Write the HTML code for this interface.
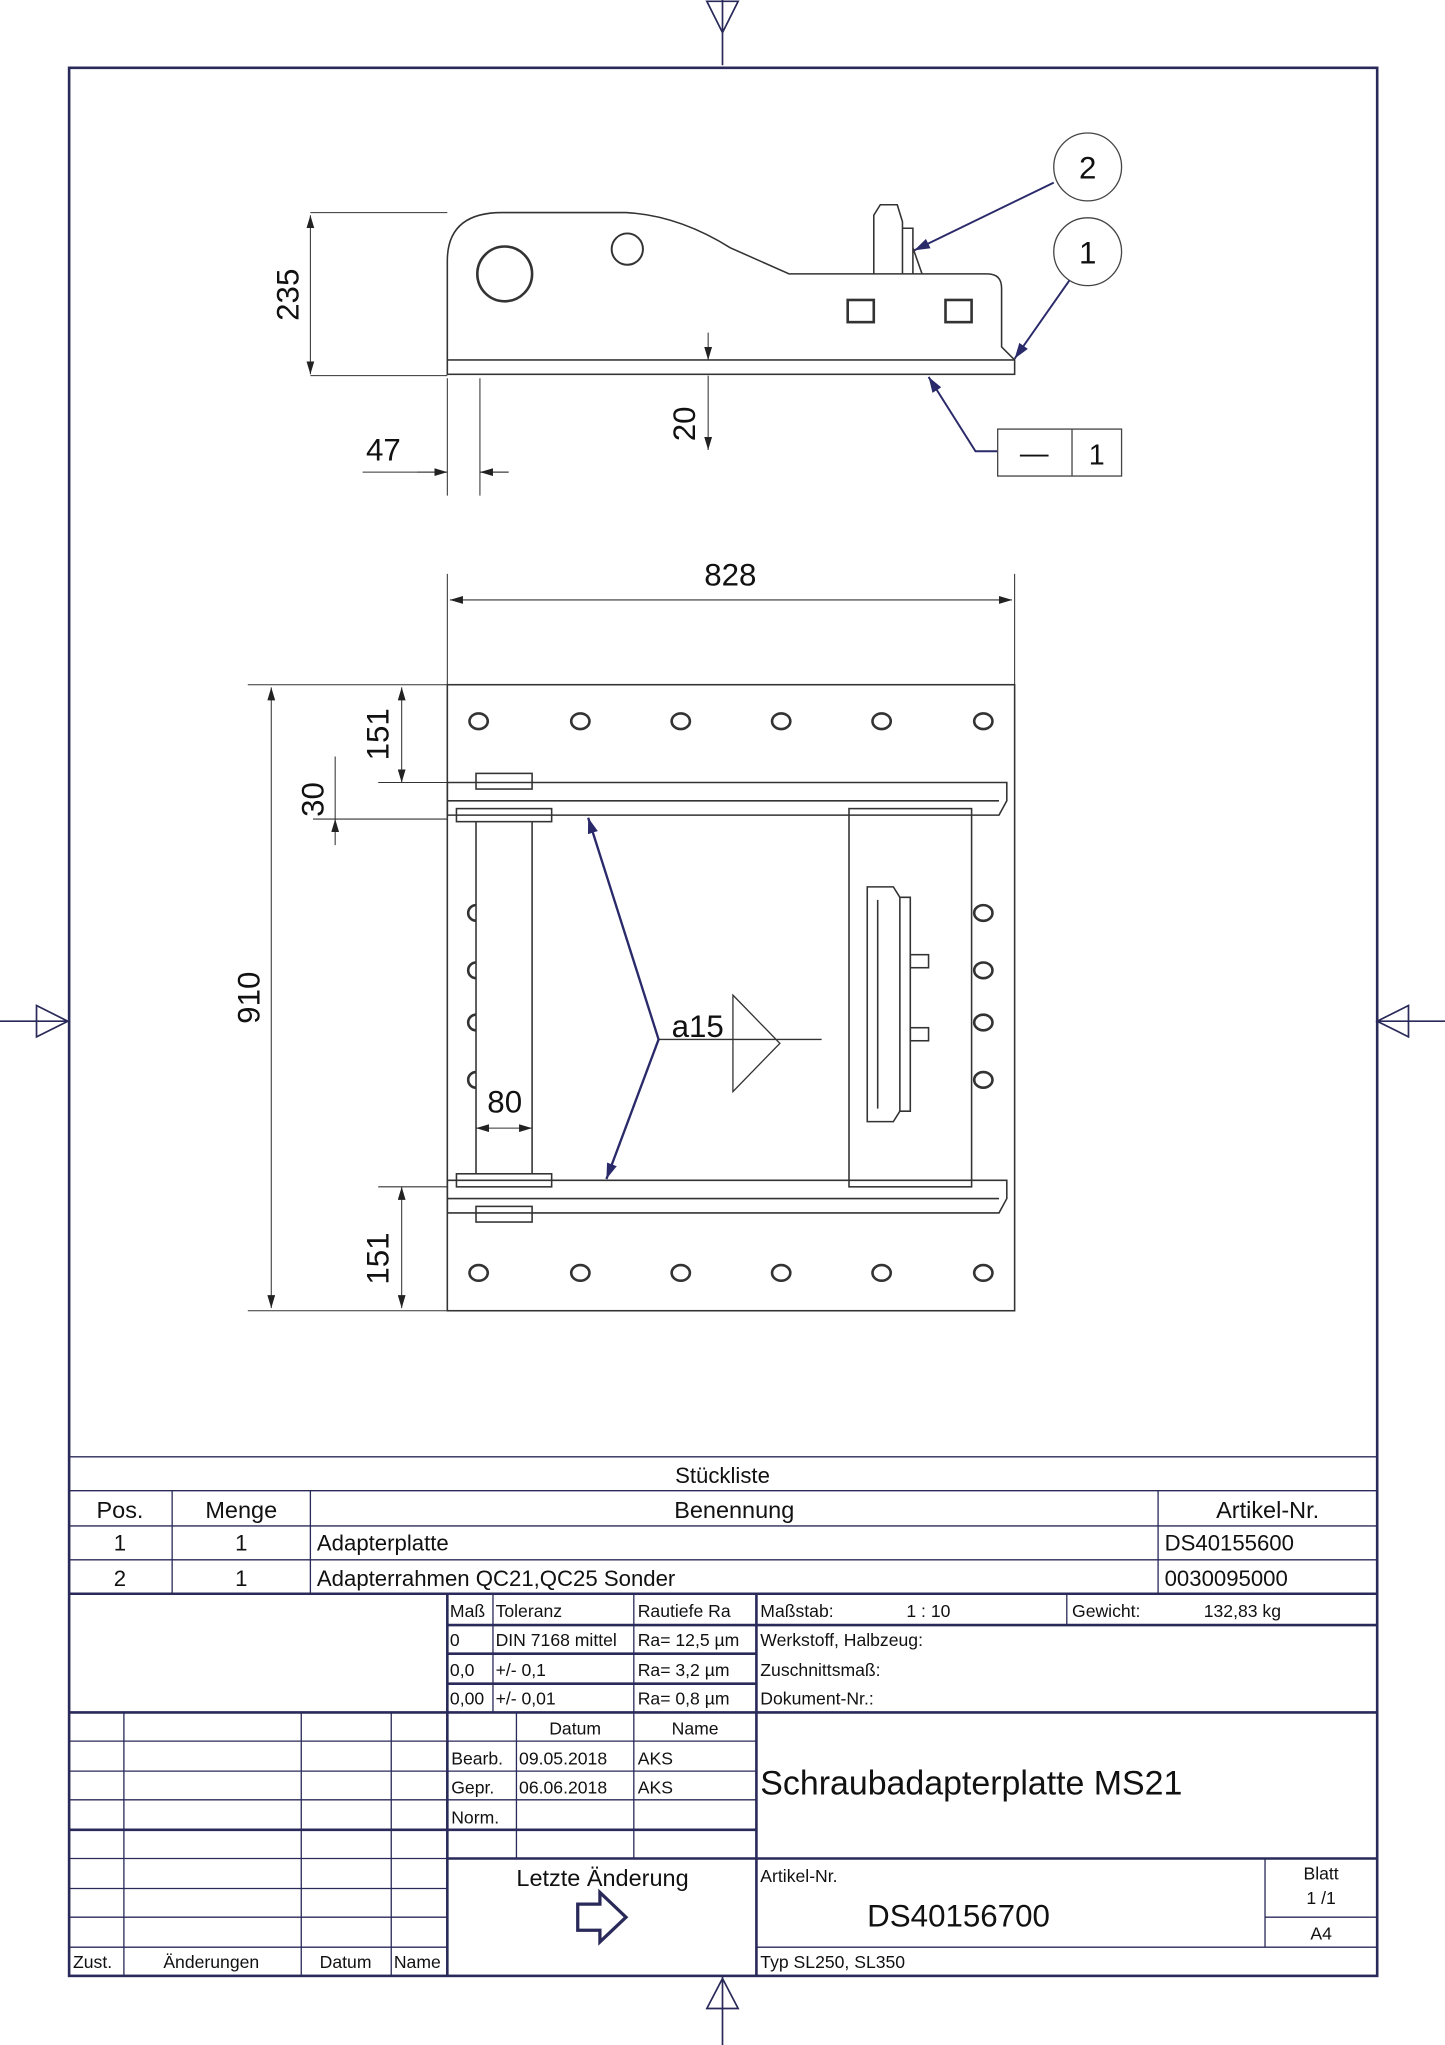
<!DOCTYPE html>
<html><head><meta charset="utf-8"><style>
html,body{margin:0;padding:0;background:#fff}
svg{display:block}
text{font-family:"Liberation Sans",sans-serif;fill:#111}
</style></head><body>
<svg width="1445" height="2045" viewBox="0 0 1108 1568" preserveAspectRatio="none" xmlns="http://www.w3.org/2000/svg">
<defs>
<marker id="a" viewBox="0 0 10 6" refX="10" refY="3" markerWidth="10" markerHeight="6" orient="auto-start-reverse" markerUnits="userSpaceOnUse"><path d="M0,0L10,3L0,6z" fill="#222"/></marker>
<marker id="b" viewBox="0 0 12 8" refX="12" refY="4" markerWidth="12" markerHeight="8" orient="auto" markerUnits="userSpaceOnUse"><path d="M0,0L12,4L0,8z" fill="#2a2a6a"/></marker>
</defs>
<g fill="none" stroke="#2a2a5a" stroke-width="1.3">
<path d="M554,0V50M542,1H566L554,25z"/>
<path d="M0,783H52M28,771L52,783L28,795z"/>
<path d="M1056,783H1108M1080,771L1056,783L1080,795z"/>
<path d="M554,1515V1568M542,1540L554,1517L566,1540z"/>
<rect x="53" y="52" width="1003" height="1463" stroke-width="2"/>
</g>
<g fill="none" stroke="#333" stroke-width="1.2">
<path d="M343,276V200Q343,163 385,163H480Q520,165 560,190L605,210H757Q768,210 768,221V266L778,276"/>
<rect x="343" y="276" width="435" height="11"/>
<circle cx="387" cy="210" r="21" stroke-width="2"/>
<circle cx="481" cy="191" r="12" stroke-width="1.5"/>
<rect x="650" y="230" width="20" height="17" stroke-width="2"/>
<rect x="725" y="230" width="20" height="17" stroke-width="2"/>
<path d="M670,210V165L675,157H688L692,170V210M692,175H700V210M700,190L707,210"/>
<path d="M343,163H238M343,288H238" stroke-width="0.8"/>
<path d="M238,165V287" marker-start="url(#a)" marker-end="url(#a)" stroke-width="0.8"/>
<path d="M343,290V380M368,290V380M278,362H343M368,362H390" stroke-width="0.8"/>
<path d="M320,362H343" marker-end="url(#a)" stroke-width="0.8"/>
<path d="M390,362H368" marker-end="url(#a)" stroke-width="0.8"/>
<path d="M543,300V288M543,288V345" stroke-width="0.8" marker-end="url(#a)"/>
<path d="M543,255V276" stroke-width="0.8" marker-end="url(#a)"/>
</g>
<g fill="none" stroke="#2a2a6a" stroke-width="1.5">
<circle cx="834" cy="128" r="26" stroke="#444" stroke-width="1"/>
<circle cx="834" cy="193" r="26" stroke="#444" stroke-width="1"/>
<path d="M808,140L701,192" marker-end="url(#b)"/>
<path d="M820,215L778,275" marker-end="url(#b)"/>
<path d="M765,346H748L712,289" marker-end="url(#b)"/>
<rect x="765" y="329" width="95" height="36" stroke="#444" stroke-width="1"/>
<path d="M822,329V365" stroke="#444" stroke-width="1"/>
</g>
<text x="834" y="137" font-size="24" text-anchor="middle">2</text>
<text x="834" y="202" font-size="24" text-anchor="middle">1</text>
<text x="793" y="355" font-size="22" text-anchor="middle">—</text>
<text x="841" y="356" font-size="22" text-anchor="middle">1</text>
<text font-size="24" transform="translate(229,226) rotate(-90)" text-anchor="middle">235</text>
<text x="294" y="353" font-size="24" text-anchor="middle">47</text>
<text font-size="24" transform="translate(533,325) rotate(-90)" text-anchor="middle">20</text>
<g fill="none" stroke="#333" stroke-width="1.2">
<rect x="343" y="525" width="435" height="480"/>
<path d="M343,440V525M778,440V525" stroke-width="0.8"/>
<path d="M345,460H776" marker-start="url(#a)" marker-end="url(#a)" stroke-width="0.8"/>
<g stroke-width="2">
<ellipse cx="367" cy="553" rx="7" ry="6"/><ellipse cx="445" cy="553" rx="7" ry="6"/><ellipse cx="522" cy="553" rx="7" ry="6"/><ellipse cx="599" cy="553" rx="7" ry="6"/><ellipse cx="676" cy="553" rx="7" ry="6"/><ellipse cx="754" cy="553" rx="7" ry="6"/>
<ellipse cx="367" cy="976" rx="7" ry="6"/><ellipse cx="445" cy="976" rx="7" ry="6"/><ellipse cx="522" cy="976" rx="7" ry="6"/><ellipse cx="599" cy="976" rx="7" ry="6"/><ellipse cx="676" cy="976" rx="7" ry="6"/><ellipse cx="754" cy="976" rx="7" ry="6"/>
<ellipse cx="754" cy="700" rx="7" ry="6"/><ellipse cx="754" cy="744" rx="7" ry="6"/><ellipse cx="754" cy="784" rx="7" ry="6"/><ellipse cx="754" cy="828" rx="7" ry="6"/>
<path d="M365,694A6,6 0 0 0 365,706M365,738A6,6 0 0 0 365,750M365,778A6,6 0 0 0 365,790M365,822A6,6 0 0 0 365,834"/>
</g>
<path d="M343,600H772V614L766,625H343z"/>
<path d="M343,614H766"/>
<path d="M343,905H772V919L766,930H343z"/>
<path d="M343,919H766"/>
<rect x="365" y="593" width="43" height="12"/>
<rect x="350" y="620" width="73" height="10"/>
<rect x="350" y="900" width="73" height="10"/>
<rect x="365" y="925" width="43" height="12"/>
<path d="M365,630V900M408,630V900"/>
<rect x="651" y="620" width="94" height="290"/>
<path d="M665,680H685L690,688H698V852H690L685,860H665z"/>
<path d="M673,690V850M690,688V852"/>
<rect x="698" y="732" width="14" height="10"/>
<rect x="698" y="788" width="14" height="10"/>
<path d="M190,525H343M190,1005H343" stroke-width="0.8"/>
<path d="M208,527V1003" marker-start="url(#a)" marker-end="url(#a)" stroke-width="0.8"/>
<path d="M290,600H343M240,628H343M290,910H343" stroke-width="0.8"/>
<path d="M308,527V600" marker-start="url(#a)" marker-end="url(#a)" stroke-width="0.8"/>
<path d="M257,580V600M257,648V628" marker-end="url(#a)" stroke-width="0.8"/>
<path d="M257,600V628" stroke-width="0.8"/>
<path d="M308,910V1003" marker-start="url(#a)" marker-end="url(#a)" stroke-width="0.8"/>
<path d="M365,865H408" marker-start="url(#a)" marker-end="url(#a)" stroke-width="0.8"/>
<path d="M505,797H630M562,763L598,800L562,837z" stroke-width="1"/>
</g>
<g fill="none" stroke="#2a2a6a" stroke-width="1.8">
<path d="M505,797L451,627" marker-end="url(#b)"/>
<path d="M505,797L465,904" marker-end="url(#b)"/>
</g>
<text x="560" y="449" font-size="24" text-anchor="middle">828</text>
<text font-size="24" transform="translate(199,765) rotate(-90)" text-anchor="middle">910</text>
<text font-size="24" transform="translate(298,563) rotate(-90)" text-anchor="middle">151</text>
<text font-size="24" transform="translate(248,613) rotate(-90)" text-anchor="middle">30</text>
<text font-size="24" transform="translate(298,965) rotate(-90)" text-anchor="middle">151</text>
<text x="387" y="853" font-size="24" text-anchor="middle">80</text>
<text x="535" y="795" font-size="24" text-anchor="middle">a15</text>
<g fill="none" stroke="#2a2a5a" stroke-width="1">
<path d="M53,1117H1056M53,1143H1056M53,1170H1056M53,1196H1056"/>
<path d="M132,1143V1222M238,1143V1222M888,1143V1222"/>
<path d="M53,1222H1056M53,1313H1056M343,1425H1056M53,1403H343M580,1246H1056M343,1246H580M343,1268H580M343,1291H580M343,1403H580" stroke-width="2"/>
<path d="M343,1222V1515M580,1222V1515" stroke-width="2"/>
<path d="M378,1222V1313M486,1222V1313M818,1222V1246"/>
<path d="M53,1335H343M53,1358H580M53,1380H580M343,1335H580M53,1425H343M53,1448H343M53,1470H343M53,1493H343M580,1493H1056M970,1470H1056"/>
<path d="M95,1313V1515M231,1313V1515M300,1313V1515M396,1313V1425M486,1313V1425M970,1425V1493"/>
<path d="M443,1460H460V1451L480,1470L460,1489V1480H443z" stroke-width="2.5"/>
</g>
<g font-size="17">
<text x="554" y="1137" text-anchor="middle">Stückliste</text>
<text x="92" y="1164" text-anchor="middle" font-size="18">Pos.</text>
<text x="185" y="1164" text-anchor="middle" font-size="18">Menge</text>
<text x="563" y="1164" text-anchor="middle" font-size="18">Benennung</text>
<text x="972" y="1164" text-anchor="middle" font-size="18">Artikel-Nr.</text>
<text x="92" y="1189" text-anchor="middle">1</text><text x="185" y="1189" text-anchor="middle">1</text>
<text x="243" y="1189">Adapterplatte</text><text x="893" y="1189">DS40155600</text>
<text x="92" y="1216" text-anchor="middle">2</text><text x="185" y="1216" text-anchor="middle">1</text>
<text x="243" y="1216">Adapterrahmen QC21,QC25 Sonder</text><text x="893" y="1216">0030095000</text>
</g>
<g font-size="13.5">
<text x="345" y="1240">Maß</text><text x="380" y="1240">Toleranz</text><text x="489" y="1240">Rautiefe Ra</text>
<text x="345" y="1262">0</text><text x="380" y="1262">DIN 7168 mittel</text><text x="489" y="1262">Ra= 12,5 µm</text>
<text x="345" y="1285">0,0</text><text x="380" y="1285">+/- 0,1</text><text x="489" y="1285">Ra= 3,2 µm</text>
<text x="345" y="1307">0,00</text><text x="380" y="1307">+/- 0,01</text><text x="489" y="1307">Ra= 0,8 µm</text>
<text x="583" y="1240">Maßstab:</text><text x="695" y="1240">1 : 10</text>
<text x="822" y="1240">Gewicht:</text><text x="923" y="1240">132,83 kg</text>
<text x="583" y="1262">Werkstoff, Halbzeug:</text>
<text x="583" y="1285">Zuschnittsmaß:</text>
<text x="583" y="1307">Dokument-Nr.:</text>
<text x="441" y="1330" text-anchor="middle">Datum</text><text x="533" y="1330" text-anchor="middle">Name</text>
<text x="346" y="1353">Bearb.</text><text x="398" y="1353">09.05.2018</text><text x="489" y="1353">AKS</text>
<text x="346" y="1375">Gepr.</text><text x="398" y="1375">06.06.2018</text><text x="489" y="1375">AKS</text>
<text x="346" y="1398">Norm.</text>
<text x="583" y="1443">Artikel-Nr.</text>
<text x="1013" y="1441" text-anchor="middle">Blatt</text>
<text x="1013" y="1460" text-anchor="middle">1 /1</text>
<text x="1013" y="1487" text-anchor="middle">A4</text>
<text x="583" y="1509">Typ  SL250, SL350</text>
<text x="56" y="1509">Zust.</text><text x="162" y="1509" text-anchor="middle">Änderungen</text>
<text x="265" y="1509" text-anchor="middle">Datum</text><text x="302" y="1509">Name</text>
</g>
<text x="583" y="1376" font-size="26">Schraubadapterplatte MS21</text>
<text x="735" y="1477" font-size="24" text-anchor="middle">DS40156700</text>
<text x="462" y="1446" font-size="18" text-anchor="middle">Letzte Änderung</text>
</svg>
</body></html>
